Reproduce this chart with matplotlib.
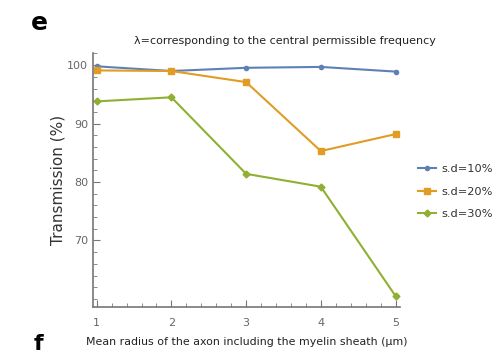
import matplotlib
matplotlib.use("Agg")
import matplotlib.pyplot as plt
from matplotlib.ticker import MultipleLocator

plt.rcParams['font.family'] = ['DejaVu Sans']

radius = [1, 2, 3, 4, 5]
sd10 = [99.8, 99.0, 99.55, 99.7, 98.9]
sd20 = [99.1, 99.0, 97.1, 85.3, 88.2]
sd30 = [93.8, 94.5, 81.4, 79.2, 60.5]
labels = ["s.d=10%", "s.d=20%", "s.d=30%"]
colors = ["#5E81B5", "#E19C24", "#8FB032"]
markers = ["o", "s", "D"]
msizes = [3, 5, 3.5]

fig = plt.figure(figsize=(5, 3.55), dpi=100)
ax = fig.add_axes([0.186, 0.135, 0.614, 0.716])

for ys, lab, c, m, ms in zip([sd10, sd20, sd30], labels, colors, markers, msizes):
    ax.plot(radius, ys, color=c, marker=m, markersize=ms, linewidth=1.5, label=lab)

ax.set_xlim(0.95, 5.06)
ax.set_ylim(58.6, 102.1)
ax.xaxis.set_major_locator(MultipleLocator(1))
ax.xaxis.set_minor_locator(MultipleLocator(0.2))
ax.set_yticks([70, 80, 90, 100])
ax.yaxis.set_minor_locator(MultipleLocator(2))
for s in ['top', 'right']:
    ax.spines[s].set_visible(False)
for s in ['left', 'bottom']:
    ax.spines[s].set_color('#777777')
    ax.spines[s].set_linewidth(1.2)
ax.tick_params(which='both', direction='in', colors='#777777', labelcolor='#666666', labelsize=8)
ax.tick_params(which='major', length=5)
ax.tick_params(which='minor', length=3)
ax.tick_params(axis='x', pad=8)

ax.set_ylabel("Transmission (%)", fontsize=11, color='#333333', labelpad=1)
ax.set_xlabel("Mean radius of the axon including the myelin sheath (\u03bcm)", fontsize=7.9, color='#222222', labelpad=6)
fig.text(0.57, 0.885, "\u03bb=corresponding to the central permissible frequency", fontsize=8.0, color='#222222', ha='center', va='center')
fig.text(0.078, 0.935, "e", fontsize=18, fontweight='bold', ha='center', va='center')
fig.text(0.076, 0.003, "f", fontsize=16, fontweight='bold', ha='center', va='bottom')

leg = fig.legend(loc='center left', bbox_to_anchor=(0.815, 0.46), frameon=False, fontsize=8.2,
                 handlelength=1.6, labelspacing=1.1, handletextpad=0.5)
for t in leg.get_texts():
    t.set_color('#333333')

fig.savefig("out.png", dpi=100)
